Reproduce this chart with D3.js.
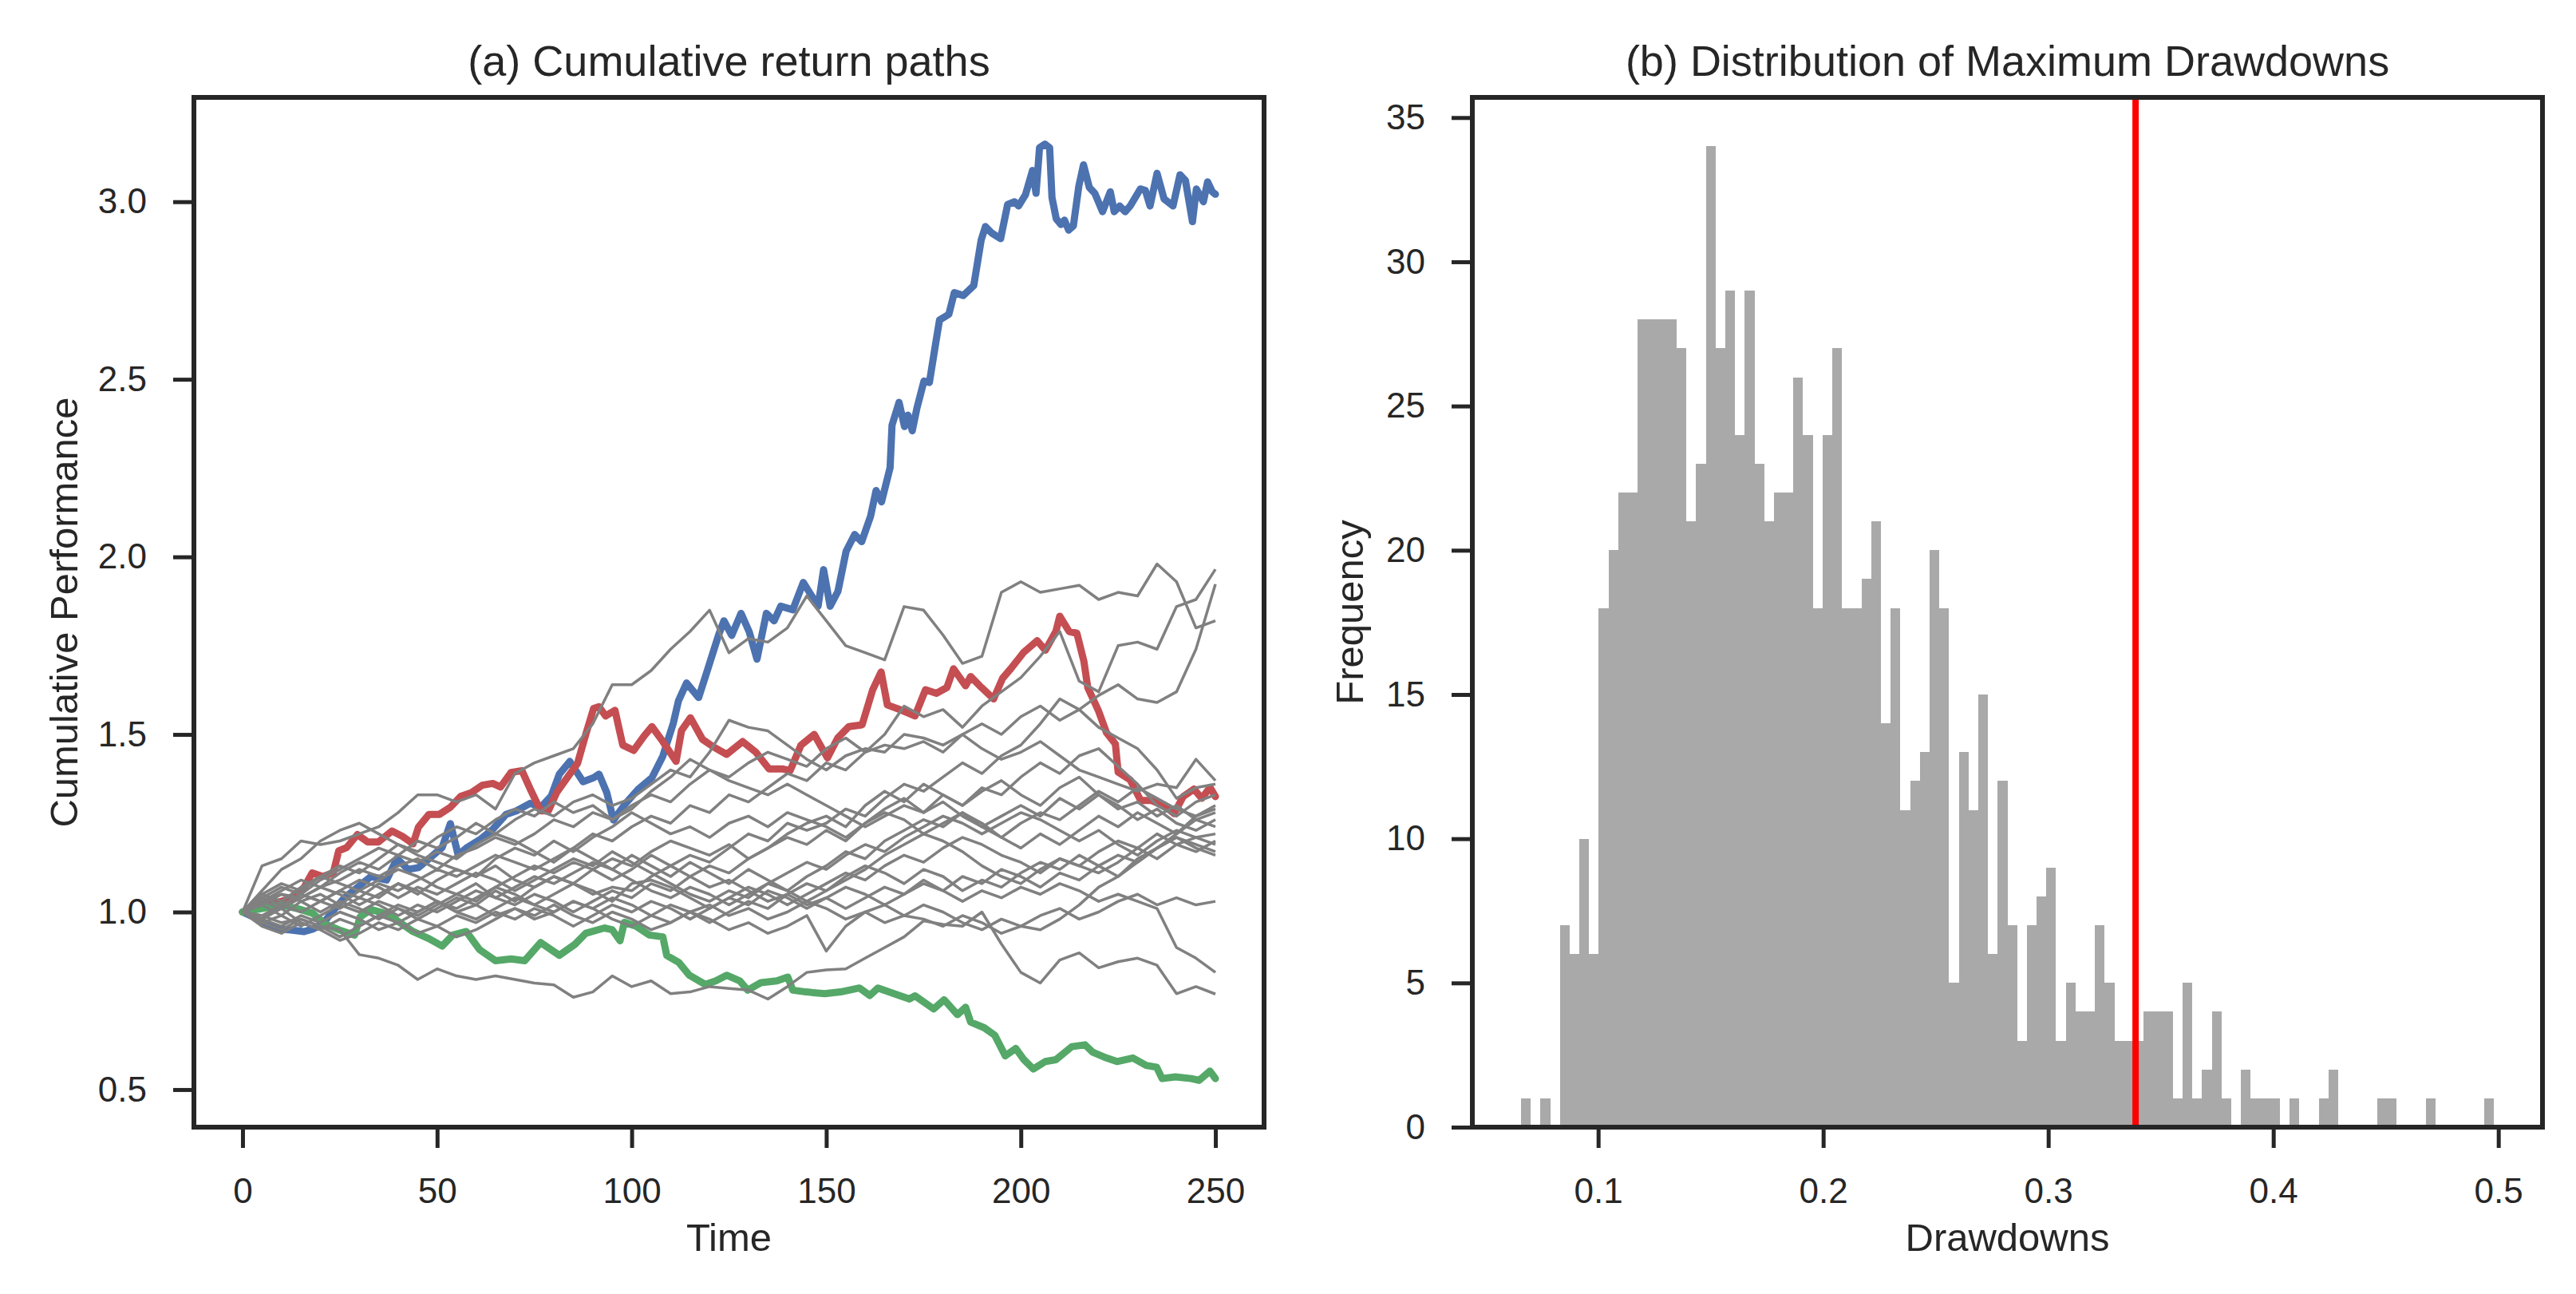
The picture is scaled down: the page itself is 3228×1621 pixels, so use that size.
<!DOCTYPE html>
<html lang="en">
<head>
<meta charset="UTF-8">
<title>Cumulative return paths and drawdowns</title>
<script src="https://d3js.org/d3.v7.min.js"></script>
<style>
  body { margin: 0; background: #fff; }
  text { font-family: "Liberation Sans", Arial, sans-serif; }
</style>
</head>
<body>
<script>
// ---------- panel (a): simulated paths, values every 5 steps ----------
const grayStep = 5;
const grayPaths = [
  [1.00,1.13,1.15,1.20,1.19,1.20,1.22,1.24,1.28,1.33,1.33,1.31,1.33,1.29,1.39,1.42,1.44,1.46,1.53,1.64,1.64,1.68,1.74,1.79,1.85,1.73,1.77,1.76,1.80,1.89,1.82,1.75,1.73,1.71,1.86,1.85,1.78,1.70,1.72,1.90,1.93,1.90,1.91,1.92,1.88,1.90,1.89,1.98,1.93,1.80,1.82],
  [1.00,1.03,1.05,1.04,1.07,1.09,1.12,1.10,1.13,1.15,1.12,1.16,1.18,1.21,1.19,1.22,1.26,1.24,1.28,1.26,1.30,1.33,1.31,1.36,1.40,1.38,1.42,1.45,1.43,1.41,1.46,1.49,1.45,1.50,1.58,1.55,1.57,1.52,1.58,1.62,1.66,1.72,1.79,1.65,1.62,1.75,1.76,1.74,1.86,1.88,1.965],
  [1.00,0.98,1.02,1.05,1.03,1.06,1.04,1.08,1.06,1.09,1.12,1.10,1.13,1.16,1.14,1.12,1.15,1.18,1.22,1.20,1.24,1.27,1.25,1.30,1.28,1.33,1.31,1.35,1.39,1.37,1.42,1.40,1.45,1.47,1.46,1.48,1.45,1.50,1.53,1.50,1.55,1.58,1.54,1.57,1.61,1.64,1.60,1.59,1.62,1.74,1.923],
  [1.00,1.04,1.07,1.05,1.09,1.12,1.15,1.18,1.16,1.20,1.18,1.21,1.25,1.22,1.26,1.29,1.27,1.31,1.33,1.30,1.32,1.36,1.40,1.38,1.45,1.54,1.52,1.51,1.47,1.43,1.40,1.44,1.46,1.45,1.50,1.49,1.47,1.50,1.46,1.43,1.45,1.48,1.44,1.40,1.38,1.36,1.34,1.36,1.35,1.43,1.37],
  [1.00,1.06,1.12,1.15,1.20,1.23,1.25,1.22,1.19,1.16,1.14,1.12,1.10,1.13,1.09,1.07,1.10,1.08,1.05,1.07,1.06,1.10,1.13,1.16,1.14,1.18,1.22,1.20,1.25,1.23,1.25,1.29,1.27,1.32,1.36,1.34,1.38,1.42,1.39,1.44,1.47,1.53,1.60,1.57,1.52,1.49,1.46,1.40,1.32,1.35,1.36],
  [1.00,1.02,0.99,1.03,1.05,1.02,1.06,1.04,1.08,1.05,1.09,1.12,1.10,1.15,1.18,1.16,1.20,1.17,1.21,1.24,1.28,1.25,1.22,1.24,1.21,1.25,1.27,1.24,1.28,1.26,1.24,1.21,1.25,1.29,1.32,1.28,1.33,1.30,1.35,1.33,1.38,1.42,1.39,1.44,1.46,1.41,1.36,1.30,1.27,1.31,1.33],
  [1.00,0.97,0.99,0.96,0.99,1.02,1.00,1.03,1.01,0.98,1.01,1.04,1.02,1.06,1.03,1.07,1.10,1.08,1.12,1.15,1.13,1.17,1.20,1.18,1.16,1.19,1.15,1.18,1.22,1.25,1.27,1.24,1.30,1.34,1.31,1.36,1.33,1.30,1.34,1.37,1.33,1.30,1.35,1.38,1.33,1.29,1.31,1.27,1.30,1.26,1.28],
  [1.00,1.05,1.03,1.07,1.10,1.08,1.06,1.09,1.12,1.10,1.07,1.05,1.08,1.04,1.02,1.05,1.03,1.00,1.03,1.06,1.04,1.08,1.06,1.10,1.13,1.11,1.15,1.18,1.21,1.19,1.23,1.20,1.25,1.28,1.26,1.22,1.25,1.28,1.24,1.27,1.30,1.27,1.32,1.29,1.33,1.30,1.26,1.29,1.25,1.23,1.26],
  [1.00,1.03,1.06,1.09,1.07,1.11,1.14,1.12,1.16,1.14,1.17,1.15,1.19,1.22,1.20,1.17,1.14,1.18,1.15,1.12,1.16,1.13,1.10,1.14,1.11,1.08,1.12,1.09,1.06,1.10,1.13,1.17,1.15,1.20,1.23,1.26,1.24,1.28,1.25,1.21,1.18,1.22,1.19,1.23,1.27,1.24,1.28,1.25,1.22,1.26,1.24],
  [1.00,0.98,1.01,0.97,0.95,0.98,0.96,0.99,1.02,1.00,1.03,1.00,0.98,1.01,1.04,1.02,1.05,1.08,1.06,1.03,1.08,1.09,1.07,1.04,1.01,1.04,1.07,1.05,1.02,1.05,1.08,1.11,1.09,1.13,1.16,1.14,1.18,1.21,1.19,1.16,1.14,1.11,1.15,1.13,1.17,1.20,1.18,1.22,1.19,1.17,1.20],
  [1.00,1.02,1.05,1.03,1.00,1.03,1.01,0.98,1.01,0.99,1.02,1.05,1.03,1.07,1.10,1.13,1.11,1.14,1.12,1.09,1.12,1.16,1.13,1.10,1.07,1.09,1.06,1.03,1.05,1.02,1.04,1.01,1.04,1.07,1.05,1.09,1.06,1.10,1.08,1.12,1.10,1.07,1.11,1.09,1.13,1.16,1.14,1.18,1.21,1.19,1.17],
  [1.00,0.97,0.95,0.98,0.96,0.93,0.96,0.99,0.97,1.00,1.03,1.01,1.04,1.07,1.05,1.02,1.00,1.03,1.01,1.04,1.02,0.99,1.02,1.00,0.97,1.00,1.03,1.01,1.05,1.08,1.06,1.10,1.13,1.11,1.08,1.12,1.10,1.06,1.09,1.07,1.11,1.14,1.12,1.16,1.13,1.10,1.14,1.18,1.21,1.18,1.16],
  [1.00,1.03,1.01,1.04,1.07,1.05,1.02,1.05,1.08,1.06,1.03,1.00,1.02,0.99,1.01,0.98,1.00,1.03,1.01,0.98,0.96,0.99,0.97,1.00,1.02,0.99,1.01,0.98,1.00,1.03,1.01,0.98,1.00,0.97,0.99,1.02,1.00,0.97,0.95,0.98,0.96,0.99,1.01,0.98,1.00,1.03,1.05,1.02,1.04,1.02,1.03],
  [1.00,0.98,0.96,0.99,0.97,1.00,0.98,0.95,0.97,0.94,0.96,0.99,0.97,1.00,0.98,1.01,0.99,0.96,0.99,1.02,1.00,1.03,1.01,0.98,1.01,1.04,1.02,1.06,1.04,1.01,1.04,1.07,1.05,1.02,1.05,1.08,1.06,1.03,1.06,1.04,1.07,1.05,1.08,1.06,1.03,1.05,1.03,1.01,0.90,0.87,0.83],
  [1.00,0.99,0.97,0.98,0.96,0.95,0.88,0.87,0.85,0.81,0.84,0.82,0.81,0.82,0.81,0.80,0.795,0.76,0.775,0.82,0.79,0.806,0.77,0.775,0.79,0.785,0.78,0.755,0.79,0.83,0.837,0.84,0.87,0.90,0.93,0.975,0.965,0.96,1.00,0.91,0.83,0.80,0.865,0.885,0.843,0.86,0.87,0.85,0.77,0.79,0.769],
  [1.00,0.96,0.94,0.97,0.95,0.92,0.94,0.97,0.95,0.98,0.96,0.93,0.95,0.98,1.01,0.99,1.02,0.99,0.97,1.00,0.98,0.95,0.97,1.00,0.98,0.95,0.97,0.94,0.96,0.99,0.89,0.96,1.00,1.02,0.99,0.98,0.96,0.99,0.97,0.94,0.96,0.95,0.98,1.02,1.07,1.10,1.15,1.18,1.22,1.27,1.30],
  [1.00,1.04,1.02,1.00,1.03,1.06,1.09,1.07,1.04,1.07,1.05,1.08,1.11,1.09,1.06,1.09,1.12,1.15,1.13,1.17,1.14,1.11,1.08,1.05,1.03,1.06,1.04,1.08,1.11,1.14,1.12,1.16,1.19,1.17,1.21,1.24,1.27,1.25,1.22,1.25,1.28,1.26,1.23,1.20,1.23,1.19,1.16,1.20,1.23,1.21,1.22],
  [1.00,1.05,1.08,1.06,1.10,1.13,1.11,1.15,1.19,1.17,1.21,1.24,1.22,1.26,1.29,1.27,1.31,1.28,1.30,1.26,1.29,1.34,1.38,1.43,1.40,1.37,1.35,1.33,1.36,1.33,1.30,1.27,1.24,1.27,1.30,1.28,1.31,1.27,1.24,1.21,1.25,1.28,1.26,1.30,1.34,1.31,1.35,1.32,1.29,1.27,1.29],
  [1.00,0.99,1.02,1.05,1.03,1.01,1.04,1.02,0.99,1.02,1.00,1.03,1.06,1.04,1.07,1.10,1.08,1.11,1.14,1.12,1.09,1.06,1.04,1.07,1.05,1.02,1.05,1.08,1.06,1.03,1.06,1.09,1.12,1.16,1.19,1.22,1.20,1.17,1.13,1.10,1.08,1.12,1.15,1.13,1.11,1.14,1.18,1.15,1.19,1.21,1.19]
];

// highlighted paths as [time, value]
const bluePath = [[0,1.0],[3,0.985],[6,0.965],[9,0.952],[12,0.95],[15.8,0.945],[18,0.952],[20.6,0.966],[23,1.0],[26,1.038],[29.5,1.069],[33,1.10],[37,1.09],[39.7,1.151],[42.5,1.12],[45.2,1.125],[47.9,1.15],[51.3,1.182],[53.4,1.249],[55.4,1.161],[57.5,1.18],[60.9,1.203],[64.3,1.233],[67.7,1.275],[70.4,1.285],[73.9,1.306],[76.6,1.295],[79.3,1.326],[81.4,1.388],[84.1,1.424],[87.5,1.367],[90.2,1.378],[91.6,1.388],[93.6,1.336],[95.3,1.259],[98.4,1.305],[101.8,1.347],[105.2,1.378],[108,1.439],[110.7,1.532],[112,1.594],[114.1,1.645],[117.2,1.604],[119.6,1.686],[122.3,1.779],[123.7,1.82],[125.7,1.779],[128.1,1.841],[130.2,1.789],[132.2,1.712],[134.6,1.841],[136.6,1.82],[138.3,1.861],[141.4,1.851],[144.1,1.928],[147.9,1.861],[149.3,1.964],[151,1.861],[153,1.903],[155.1,2.016],[157.3,2.063],[159.1,2.043],[161.4,2.115],[162.8,2.187],[164.2,2.155],[166.4,2.251],[166.9,2.371],[168.7,2.435],[170.1,2.367],[171,2.399],[172.1,2.355],[173.3,2.419],[175.1,2.495],[176.5,2.491],[177.9,2.587],[179.1,2.667],[181.5,2.683],[182.9,2.744],[185.2,2.736],[187.9,2.764],[189.8,2.892],[190.9,2.93],[192.5,2.912],[194.8,2.896],[196.6,2.992],[198.4,3.0],[199.4,2.988],[201.2,3.02],[203,3.088],[203.9,3.024],[204.8,3.152],[206.2,3.162],[207.4,3.152],[208,3.012],[209.1,2.952],[210.3,2.936],[211.2,2.948],[212.3,2.92],[213.5,2.932],[214.9,3.044],[216.1,3.104],[217.6,3.04],[219,3.024],[221,2.972],[223,3.028],[224,2.972],[225.4,2.988],[226.8,2.972],[228.1,2.988],[230.7,3.036],[232,3.032],[233.2,2.988],[235,3.08],[236.8,3.008],[239.1,2.988],[240.9,3.076],[242.3,3.06],[244.1,2.944],[245.1,3.036],[246.9,3.0],[248,3.056],[249.2,3.028],[250,3.021]];

const redPath = [[0,1.0],[5,1.02],[10,1.03],[13,1.04],[15.8,1.069],[17.9,1.11],[20.6,1.10],[23.3,1.11],[24.7,1.172],[26.8,1.182],[29.5,1.218],[32.2,1.197],[34.9,1.197],[38.4,1.228],[41.1,1.213],[43.8,1.192],[45.2,1.239],[47.9,1.275],[50.6,1.275],[53.4,1.295],[56.1,1.326],[58.8,1.336],[61.6,1.357],[64.3,1.362],[66.3,1.352],[69,1.393],[71.8,1.398],[73.9,1.347],[76.6,1.285],[78.6,1.285],[80.7,1.336],[83.4,1.378],[86.1,1.419],[88.2,1.5],[90.2,1.573],[91.6,1.578],[93.3,1.552],[95.7,1.568],[97.7,1.47],[100.5,1.455],[103.2,1.496],[105.2,1.522],[108,1.48],[111.4,1.424],[112.8,1.511],[115.1,1.547],[118.2,1.486],[121,1.465],[124.4,1.444],[128.5,1.48],[131.9,1.45],[135.3,1.403],[138.7,1.403],[140.7,1.398],[143.5,1.47],[146.9,1.5],[150.3,1.434],[153,1.491],[155.8,1.522],[159.2,1.527],[161.9,1.625],[164.1,1.676],[165.7,1.583],[169.4,1.568],[172.8,1.552],[175.5,1.626],[178.3,1.616],[181,1.632],[182.7,1.685],[185.8,1.637],[187.1,1.663],[189.9,1.632],[193,1.6],[195.3,1.658],[197.4,1.685],[200.8,1.732],[204.2,1.764],[206.3,1.737],[209,1.79],[210,1.833],[212.4,1.79],[214.4,1.785],[216.2,1.706],[217.2,1.632],[219.9,1.568],[222,1.505],[224.3,1.473],[225,1.394],[228.1,1.372],[230.8,1.314],[233.6,1.314],[237,1.298],[239.4,1.277],[241.7,1.325],[244.5,1.346],[246.5,1.32],[248.6,1.351],[250,1.325]];

const greenPath = [[0,1.0],[5,1.01],[10,1.02],[14,1.01],[17.9,0.997],[21.3,0.966],[24.7,0.95],[28.8,0.935],[30.2,0.986],[33,1.007],[36.3,0.997],[39,0.981],[43.8,0.945],[47.9,0.925],[51.3,0.904],[54,0.935],[57.5,0.945],[60.9,0.894],[65,0.863],[69,0.868],[72.5,0.863],[76.6,0.914],[81.4,0.878],[85.4,0.909],[88.2,0.94],[93,0.955],[95,0.95],[97,0.919],[98.1,0.971],[101.1,0.96],[104.6,0.935],[108,0.93],[109,0.878],[112.1,0.858],[114.8,0.822],[118.9,0.796],[121.6,0.806],[124.4,0.822],[127.8,0.806],[129.8,0.78],[133.2,0.801],[137.3,0.806],[140.1,0.817],[141.4,0.78],[144.8,0.775],[149.6,0.77],[153.7,0.775],[158.5,0.786],[161.2,0.765],[163.3,0.786],[167.4,0.77],[171.4,0.755],[172.8,0.764],[177.6,0.727],[180.3,0.753],[183.7,0.711],[185.8,0.732],[187.1,0.69],[190.6,0.674],[193.3,0.653],[196,0.595],[198.7,0.616],[200.8,0.584],[203.2,0.558],[206.3,0.579],[209,0.584],[213.1,0.621],[216.5,0.626],[218.5,0.605],[222,0.589],[224.7,0.579],[228.8,0.589],[232.2,0.568],[234.9,0.563],[236.3,0.531],[239.7,0.536],[243.8,0.531],[245.8,0.526],[248.6,0.552],[250,0.531]];

const timeTicks = [0, 50, 100, 150, 200, 250];
const perfTicks = [0.5, 1.0, 1.5, 2.0, 2.5, 3.0];

// ---------- panel (b): histogram of max drawdowns (100 bins) ----------
const ddMin = 0.0657;
const ddMax = 0.4980;
const ddCounts = [
  1,0,1,0,7,6,10,6,18,20,
  22,22,28,28,28,28,27,21,23,34,
  27,29,24,29,23,21,22,22,26,24,
  18,24,27,18,18,19,21,14,18,11,
  12,13,20,18,5,13,11,15,6,12,
  7,3,7,8,9,3,5,4,4,7,
  5,3,3,3,4,4,4,1,5,1,
  2,4,1,0,2,1,1,1,0,1,
  0,0,1,2,0,0,0,0,1,1,
  0,0,0,1,0,0,0,0,0,1
];
const ddMarker = 0.3388;
const ddTicks = [0.1, 0.2, 0.3, 0.4, 0.5];
const freqTicks = [0, 5, 10, 15, 20, 25, 30, 35];

// ---------- layout ----------
const W = 3228, H = 1621;
const ink = "#262626";
const A = {x0: 243, x1: 1584, y0: 122, y1: 1412};
const B = {x0: 1845, x1: 3186, y0: 122, y1: 1412};

const svg = d3.select("body").append("svg")
  .attr("width", W).attr("height", H);
svg.append("rect").attr("width", W).attr("height", H).attr("fill", "#fff");

// matplotlib-like 5% margins
function padded(lo, hi) {
  const r = hi - lo;
  return [lo - 0.05 * r, hi + 0.05 * r];
}

// ----- panel (a) -----
const allVals = grayPaths.flat()
  .concat(bluePath.map(d => d[1]), redPath.map(d => d[1]), greenPath.map(d => d[1]));

const xA = d3.scaleLinear().domain(padded(0, 250)).range([A.x0, A.x1]);
const yA = d3.scaleLinear().domain(padded(d3.min(allVals), d3.max(allVals))).range([A.y1, A.y0]);

const lineA = d3.line().x(d => xA(d[0])).y(d => yA(d[1]));

const colored = [
  {path: bluePath, color: "#4c72b0"},
  {path: redPath, color: "#c44e52"},
  {path: greenPath, color: "#55a868"}
];

svg.append("g").selectAll("path")
  .data(colored)
  .enter()
  .append("path")
  .attr("d", d => lineA(d.path))
  .attr("fill", "none")
  .attr("stroke", d => d.color)
  .attr("stroke-width", 9)
  .attr("stroke-linejoin", "round")
  .attr("stroke-linecap", "round");

svg.append("g").selectAll("path")
  .data(grayPaths)
  .enter()
  .append("path")
  .attr("d", vals => lineA(vals.map((v, i) => [i * grayStep, v])))
  .attr("fill", "none")
  .attr("stroke", "#808080")
  .attr("stroke-width", 3.5)
  .attr("stroke-linejoin", "round");

// ----- panel (b) -----
const binW = (ddMax - ddMin) / ddCounts.length;
const bins = ddCounts.map((c, i) => ({x0: ddMin + i * binW, x1: ddMin + (i + 1) * binW, n: c}));

const xB = d3.scaleLinear().domain(padded(ddMin, ddMax)).range([B.x0, B.x1]);
const yB = d3.scaleLinear().domain([0, d3.max(ddCounts) * 1.05]).range([B.y1, B.y0]);

svg.append("g").attr("shape-rendering", "crispEdges")
  .selectAll("rect")
  .data(bins.filter(b => b.n > 0))
  .enter()
  .append("rect")
  .attr("x", b => Math.round(xB(b.x0)))
  .attr("width", b => Math.round(xB(b.x1)) - Math.round(xB(b.x0)))
  .attr("y", b => yB(b.n))
  .attr("height", b => yB(0) - yB(b.n))
  .attr("fill", "#a9a9a9");

svg.append("line")
  .attr("x1", xB(ddMarker)).attr("x2", xB(ddMarker))
  .attr("y1", B.y0).attr("y2", B.y1)
  .attr("stroke", "#ff0000")
  .attr("stroke-width", 8);

// ----- axes -----
function styleAxis(g) {
  g.attr("color", ink).attr("font-family", '"Liberation Sans", Arial, sans-serif').attr("font-size", 44);
  g.select(".domain").remove();
  g.selectAll(".tick line").attr("stroke-width", 5);
}

svg.append("g").attr("transform", `translate(0,${A.y1})`)
  .call(d3.axisBottom(xA).tickValues(timeTicks).tickFormat(d3.format("d")).tickSize(26).tickPadding(38))
  .call(styleAxis);
svg.append("g").attr("transform", `translate(${A.x0},0)`)
  .call(d3.axisLeft(yA).tickValues(perfTicks).tickFormat(d3.format(".1f")).tickSize(26).tickPadding(33))
  .call(styleAxis);
svg.append("g").attr("transform", `translate(0,${B.y1})`)
  .call(d3.axisBottom(xB).tickValues(ddTicks).tickFormat(d3.format(".1f")).tickSize(26).tickPadding(38))
  .call(styleAxis);
svg.append("g").attr("transform", `translate(${B.x0},0)`)
  .call(d3.axisLeft(yB).tickValues(freqTicks).tickFormat(d3.format("d")).tickSize(26).tickPadding(33))
  .call(styleAxis);

// frames
[A, B].forEach(p => {
  svg.append("rect")
    .attr("x", p.x0).attr("y", p.y0)
    .attr("width", p.x1 - p.x0).attr("height", p.y1 - p.y0)
    .attr("fill", "none").attr("stroke", ink).attr("stroke-width", 6);
});

// titles and labels
function label(x, y, txt, size, rot) {
  svg.append("text")
    .attr("transform", `translate(${x},${y})` + (rot ? " rotate(-90)" : ""))
    .attr("text-anchor", "middle")
    .attr("font-size", size)
    .attr("fill", ink)
    .text(txt);
}
label((A.x0 + A.x1) / 2, 95, "(a) Cumulative return paths", 54);
label((B.x0 + B.x1) / 2, 95, "(b) Distribution of Maximum Drawdowns", 54);
label((A.x0 + A.x1) / 2, 1567, "Time", 49);
label((B.x0 + B.x1) / 2, 1567, "Drawdowns", 49);
label(97, (A.y0 + A.y1) / 2, "Cumulative Performance", 49, true);
label(1708, (B.y0 + B.y1) / 2, "Frequency", 49, true);
</script>
</body>
</html>
